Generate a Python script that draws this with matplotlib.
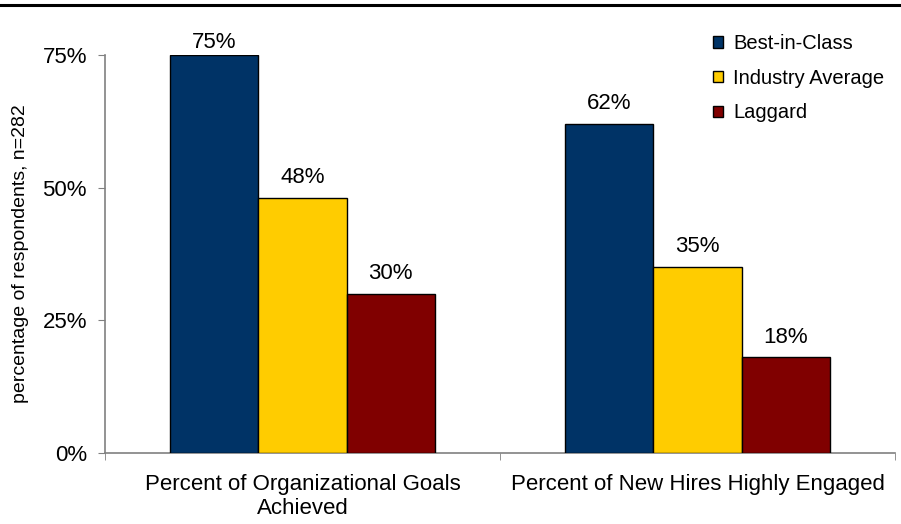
import matplotlib.pyplot as plt
import numpy as np
from matplotlib.lines import Line2D

plt.rcParams['font.family'] = ['Liberation Sans', 'DejaVu Sans']

categories = ["Percent of Organizational Goals\nAchieved", "Percent of New Hires Highly Engaged"]
series_names = ["Best-in-Class", "Industry Average", "Laggard"]
best_in_class = [75, 62]
industry_avg = [48, 35]
laggard = [30, 18]
yticks = [0, 25, 50, 75]

colors = ["#003366", "#FFCC00", "#800000"]
axis_gray = "#808080"

fig = plt.figure(figsize=(9.01, 5.24), dpi=100)
ax = fig.add_axes([105 / 901, 1 - 453 / 524, 790 / 901, 398 / 524])

x = np.arange(len(categories))
w = 0.223
ymax = yticks[-1]
for i, (vals, name) in enumerate(zip([best_in_class, industry_avg, laggard], series_names)):
    pos = x + (i - 1) * w
    bars = ax.bar(pos, vals, w, color=colors[i], edgecolor="black", linewidth=1.0, label=name, zorder=3)
    for b, v in zip(bars, vals):
        # labels sit above the bar, but are pushed down near the top of the plot
        ly = min(v + 2.8, ymax + 1.3)
        ax.text(b.get_x() + b.get_width() / 2, ly, f"{v}%", ha="center", va="baseline",
                fontsize=16, clip_on=False)

ax.set_xlim(-0.5, 1.5)
ax.set_ylim(0, ymax)
ax.set_yticks(yticks)
ax.set_yticklabels([f"{t}%" for t in yticks], fontsize=16)
ax.set_xticks(x)
ax.set_xticklabels(categories, fontsize=16)
ax.tick_params(axis="x", length=0, pad=15)
ax.tick_params(axis="y", length=5, color=axis_gray, pad=8)

# category boundary ticks along the x axis
ax.set_xticks([-0.5, 0.5, 1.5], minor=True)
ax.tick_params(axis="x", which="minor", length=5, color=axis_gray, direction="out")

for s in ["top", "right"]:
    ax.spines[s].set_visible(False)
for s in ["left", "bottom"]:
    ax.spines[s].set_color(axis_gray)
    ax.spines[s].set_linewidth(1.2)

ax.set_ylabel("percentage of respondents, n=282", fontsize=14)
ax.yaxis.set_label_coords(-0.096, 0.5)

ax.legend(loc="upper left", bbox_to_anchor=(713 / 901, 1 - 34 / 524), bbox_transform=fig.transFigure,
          frameon=False, fontsize=14.5, handlelength=0.5, handleheight=0.5, handletextpad=0.5,
          labelspacing=0.78, borderaxespad=0, borderpad=0)

# heavy rule across the top of the figure
fig.add_artist(Line2D([0, 1], [1 - 5 / 524, 1 - 5 / 524], color="black", linewidth=2.2,
                      transform=fig.transFigure))

fig.savefig("out.png", dpi=100)
